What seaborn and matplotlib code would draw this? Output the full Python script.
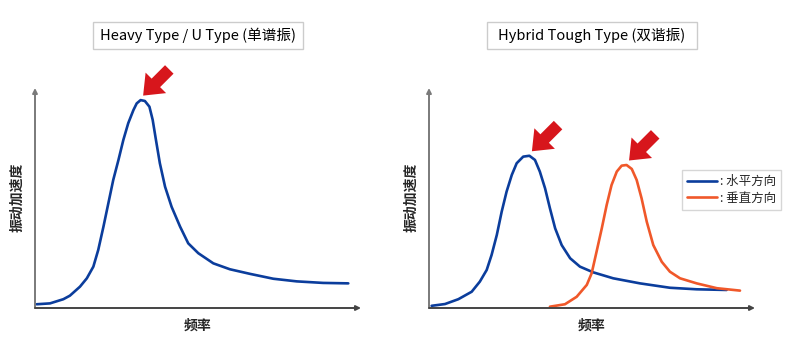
import numpy as np
import pandas as pd
import matplotlib
matplotlib.use("Agg")
import matplotlib.pyplot as plt
import matplotlib.patches as mpatches
from matplotlib.transforms import IdentityTransform
import seaborn as sns

# ---------------- data (frequency 0-100, acceleration 0-100) ----------------
single_freq = [0.5, 4.6, 8.7, 10.7, 13.8, 15.9, 17.9, 19.4, 21.0, 22.5, 24.0, 25.6,
               27.1, 28.6, 30.2, 31.2, 32.4, 33.7, 35.1, 36.1, 37.1, 38.3, 39.9,
               41.9, 44.5, 47.0, 50.1, 54.7, 59.8, 66.0, 73.1, 80.3, 88.4, 96.1]
single_acc = [1.7, 2.1, 4.0, 5.6, 9.7, 13.5, 18.8, 26.4, 37.0, 47.6, 58.2, 67.3,
              76.4, 84.0, 90.0, 93.0, 94.5, 94.1, 91.5, 85.5, 76.4, 65.8, 55.1,
              46.0, 37.0, 29.4, 24.9, 20.3, 17.6, 15.5, 13.3, 12.1, 11.4, 11.2]

horiz_freq = [0.8, 4.9, 9.0, 13.1, 15.6, 17.7, 19.2, 20.8, 22.3, 23.8, 25.4, 26.9,
              28.9, 30.8, 32.5, 34.0, 35.6, 37.1, 38.7, 40.7, 43.3, 46.3, 50.4,
              56.5, 64.7, 73.9, 82.1, 91.3]
horiz_acc = [1.0, 1.8, 4.0, 7.4, 12.0, 17.3, 24.1, 33.2, 43.8, 52.9, 60.5, 65.8,
             68.8, 69.2, 67.3, 62.0, 54.4, 45.3, 36.2, 28.6, 22.6, 18.8, 16.2,
             13.5, 11.2, 9.2, 8.5, 8.2]

vert_freq = [37.1, 41.7, 45.3, 48.4, 49.9, 51.4, 53.0, 54.5, 56.0, 57.6, 59.1,
             60.6, 62.2, 63.7, 65.2, 66.8, 68.8, 71.4, 73.9, 77.0, 82.1, 88.3, 95.4]
vert_acc = [0.6, 1.7, 5.1, 10.5, 15.8, 25.6, 36.2, 46.8, 55.9, 62.0, 64.7,
            65.0, 63.2, 58.2, 49.9, 39.2, 28.6, 21.0, 16.5, 13.5, 11.2, 9.0, 7.9]

titles = ["Heavy Type / U Type (单谱振)", "Hybrid Tough Type (双谐振)"]
ylabel = "振动加速度"
xlabel = "频率"
series_names = [": 水平方向", ": 垂直方向"]

BLUE = "#0b3d9c"
ORANGE = "#f0582a"
RED = "#d7161c"

# ---------------- figure ----------------
sns.set_style("white")
plt.rcParams["font.family"] = ["Noto Sans CJK SC", "DejaVu Sans"]

W, H = 785, 350
fig = plt.figure(figsize=(W / 100, H / 100), dpi=100)


def px_axes(x0, y_top, x1, y_bot):
    return fig.add_axes([x0 / W, 1 - y_bot / H, (x1 - x0) / W, (y_bot - y_top) / H])


ax1 = px_axes(35, 88, 361, 308)
ax2 = px_axes(429, 88, 755, 308)

df1 = pd.DataFrame({"freq": single_freq, "acc": single_acc})
df2 = pd.concat([
    pd.DataFrame({"freq": horiz_freq, "acc": horiz_acc, "dir": series_names[0]}),
    pd.DataFrame({"freq": vert_freq, "acc": vert_acc, "dir": series_names[1]}),
])

line_kw = dict(lw=1.9, estimator=None, sort=False,
               solid_joinstyle="round", solid_capstyle="round")
sns.lineplot(data=df1, x="freq", y="acc", ax=ax1, color=BLUE, **line_kw)
sns.lineplot(data=df2, x="freq", y="acc", hue="dir", ax=ax2,
             palette=[BLUE, ORANGE], legend=False, **line_kw)

for ax in (ax1, ax2):
    ax.set_xlim(0, 100)
    ax.set_ylim(0, 100)
    ax.set_xticks([])
    ax.set_yticks([])
    ax.set_xlabel("")
    ax.set_ylabel("")
    for s in ax.spines.values():
        s.set_visible(False)
    ax.patch.set_alpha(0)
    # axis lines with arrow heads
    ax.annotate("", xy=(0, 1.0), xytext=(0, 0), xycoords="axes fraction",
                arrowprops=dict(arrowstyle="-|>", color="#7a7a7a", lw=1.4,
                                mutation_scale=7, shrinkA=0, shrinkB=0))
    ax.annotate("", xy=(1.0, 0), xytext=(0, 0), xycoords="axes fraction",
                arrowprops=dict(arrowstyle="-|>", color="#444444", lw=1.4,
                                mutation_scale=7, shrinkA=0, shrinkB=0))

# labels
for cx in (17, 411):
    fig.text(cx / W, 1 - 197 / H, ylabel, rotation=90, ha="center", va="center",
             fontsize=10, fontweight="bold")
for cx in (198, 592):
    fig.text(cx / W, 1 - 326 / H, xlabel, ha="center", va="center",
             fontsize=10, fontweight="bold")

# title boxes
for (x0, x1), t in zip([(93, 303), (487, 697)], titles):
    rect = mpatches.Rectangle((x0 / W, 1 - 49 / H), (x1 - x0) / W, 27 / H,
                              transform=fig.transFigure, fill=False,
                              edgecolor="#cccccc", lw=1.0)
    fig.add_artist(rect)
    fig.text((x0 + x1) / 2 / W, 1 - 35.5 / H, t, ha="center", va="center",
             fontsize=10.5, color="#000000")

# legend
handles = [plt.Line2D([], [], color=BLUE, lw=1.9),
           plt.Line2D([], [], color=ORANGE, lw=1.9)]
leg = ax2.legend(handles, series_names, loc="upper left",
                 bbox_to_anchor=(682 / W, 1 - 170 / H),
                 bbox_transform=fig.transFigure, frameon=True, fancybox=False,
                 edgecolor="#cccccc", fontsize=9, handlelength=2.4,
                 handletextpad=0.2, borderpad=0.4, labelspacing=0.3,
                 borderaxespad=0)
leg.get_frame().set_linewidth(1.0)


# red arrows pointing at peaks
def peak_arrow(ax, fx, fy):
    fig.canvas.draw()
    px, py = ax.transData.transform((fx, fy))
    tip = np.array([px + 2.5, py + 4.5])
    d = np.array([1.0, 1.0]) / np.sqrt(2)
    L = 37
    start = tip + d * L
    arr = mpatches.FancyArrow(start[0], start[1], -d[0] * L, -d[1] * L,
                              width=12, head_width=29, head_length=18,
                              length_includes_head=True, color=RED, lw=0,
                              transform=IdentityTransform())
    fig.add_artist(arr)


i1 = int(np.argmax(single_acc))
peak_arrow(ax1, single_freq[i1], single_acc[i1])
i2 = int(np.argmax(horiz_acc))
peak_arrow(ax2, horiz_freq[i2], horiz_acc[i2])
i3 = int(np.argmax(vert_acc))
peak_arrow(ax2, vert_freq[i3], vert_acc[i3])

fig.savefig("out.png", dpi=100)
